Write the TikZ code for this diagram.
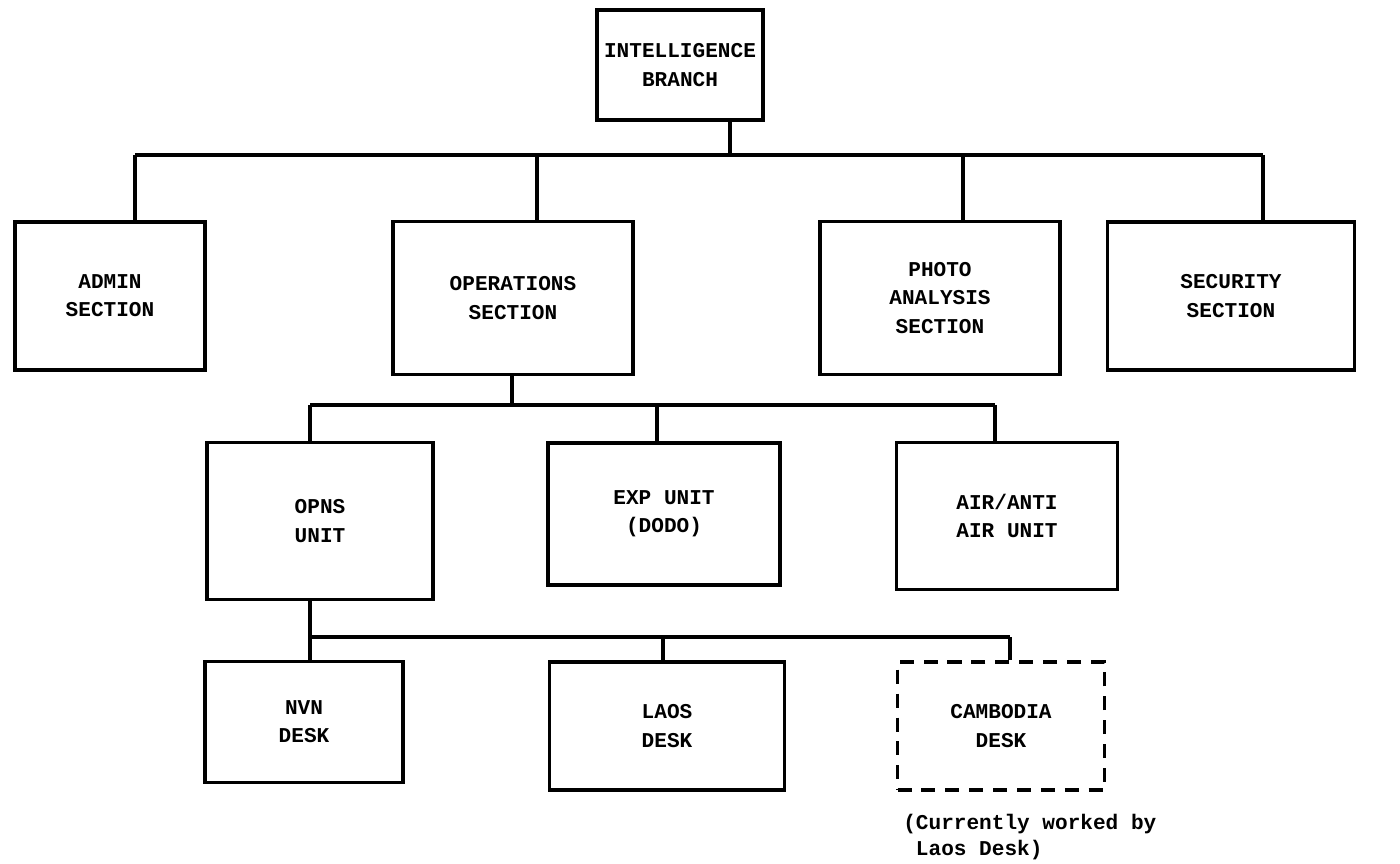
\documentclass[tikz,border=0pt]{standalone}
\usepackage{fontspec}
\setmonofont{Liberation Mono}
\usetikzlibrary{calc}
\tikzset{
  unitbox/.style={draw, line width=2.6pt, align=center, inner sep=0pt,
    font=\ttfamily\bfseries\fontsize{15}{20}\selectfont},
  tentbox/.style={unitbox, dashed, dash pattern=on 10pt off 7pt},
  wire/.style={line width=2.3pt}
}
\begin{document}
\begin{tikzpicture}[x=0.25mm, y=-0.25mm]
  \useasboundingbox (0,0) rectangle (1400,863);
  % top
  \node[unitbox, minimum width=166*0.25mm, minimum height=110*0.25mm] (ib) at (680,65) {INTELLIGENCE\\BRANCH};
  % sections
  \node[unitbox, minimum width=190*0.25mm, minimum height=148*0.25mm] (admin) at (110,296) {ADMIN\\SECTION};
  \node[unitbox, minimum width=240*0.25mm, minimum height=153*0.25mm] (ops) at (513,298) {OPERATIONS\\SECTION};
  \node[unitbox, minimum width=240*0.25mm, minimum height=153*0.25mm] (photo) at (940,298) {PHOTO\\ANALYSIS\\SECTION};
  \node[unitbox, minimum width=247*0.25mm, minimum height=148*0.25mm] (sec) at (1231,296) {SECURITY\\SECTION};
  % units
  \node[unitbox, minimum width=226*0.25mm, minimum height=157*0.25mm] (opns) at (320,521) {OPNS\\UNIT};
  \node[unitbox, minimum width=232*0.25mm, minimum height=142*0.25mm] (exp) at (664,514) {EXP UNIT\\(DODO)};
  \node[unitbox, minimum width=221*0.25mm, minimum height=147*0.25mm] (air) at (1007,516) {AIR/ANTI\\AIR UNIT};
  % desks
  \node[unitbox, minimum width=198*0.25mm, minimum height=121*0.25mm] (nvn) at (304,722) {NVN\\DESK};
  \node[unitbox, minimum width=235*0.25mm, minimum height=128*0.25mm] (laos) at (667,726) {LAOS\\DESK};
  \node[tentbox, minimum width=207*0.25mm, minimum height=128*0.25mm] (camb) at (1001,726) {CAMBODIA\\DESK};
  \node[anchor=west, align=left, inner sep=0pt,
    font=\ttfamily\bfseries\fontsize{15}{19}\selectfont] (note) at (903,837) {(Currently worked by\\\ Laos Desk)};

  % branch to sections
  \coordinate (b1) at (730,155);
  \draw[wire] (ib.south -| b1) -- (b1);
  \draw[wire] (135,155) -- (1263,155);
  \foreach \nm/\xx in {admin/135, ops/537, photo/963, sec/1263}
    \draw[wire] (\xx,155) -- (\nm.north -| \xx,0);
  % operations to units
  \coordinate (b2) at (512,405);
  \draw[wire] (ops.south -| b2) -- (b2);
  \draw[wire] (310,405) -- (995,405);
  \foreach \nm/\xx in {opns/310, exp/657, air/995}
    \draw[wire] (\xx,405) -- (\nm.north -| \xx,0);
  % opns unit to desks
  \coordinate (b3) at (310,637);
  \draw[wire] (opns.south -| b3) -- (b3);
  \draw[wire] (310,637) -- (1010,637);
  \foreach \nm/\xx in {nvn/310, laos/663, camb/1010}
    \draw[wire] (\xx,637) -- (\nm.north -| \xx,0);
\end{tikzpicture}
\end{document}
